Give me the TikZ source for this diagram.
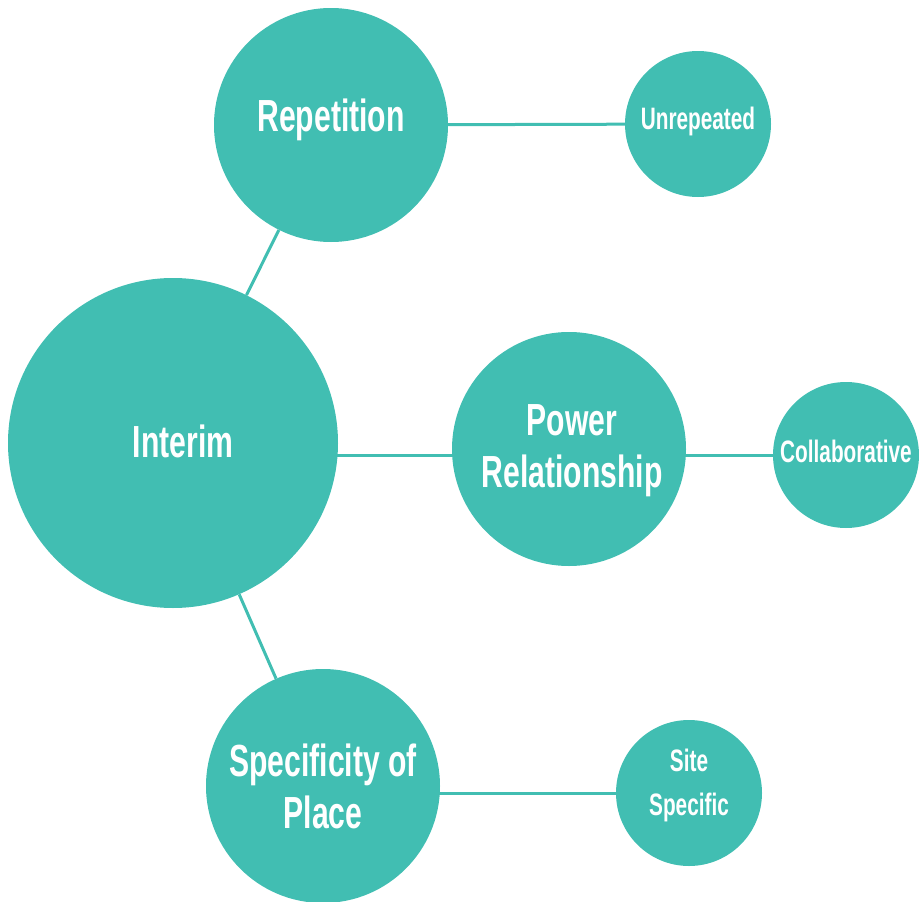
\documentclass[tikz,border=0pt]{standalone}
\usepackage{fontspec}
\setmainfont[FakeStretch=0.67]{Liberation Sans}
\usetikzlibrary{backgrounds}
\definecolor{teal}{HTML}{41BEB2}
\begin{document}
\begin{tikzpicture}[x=1pt,y=-1pt,
  bigc/.style={circle,fill=teal,inner sep=0pt,minimum size=330pt},
  midc/.style={circle,fill=teal,inner sep=0pt,minimum size=234pt},
  smallc/.style={circle,fill=teal,inner sep=0pt,minimum size=146pt},
  bigt/.style={text=white,align=center,font=\fontsize{45}{52}\selectfont\bfseries},
  smallt/.style={text=white,align=center,font=\fontsize{31}{44}\selectfont\bfseries},
  link/.style={teal,line width=3pt}]
  \useasboundingbox (0,0) rectangle (919,902);
  % main circle
  \node[bigc,label={[bigt,xshift=10pt,yshift=2pt]center:Interim}] (interim) at (173,443) {};
  % second level
  \node[midc,label={[bigt,yshift=5pt]center:Repetition}] (rep) at (331,125) {};
  \node[midc,label={[bigt,xshift=3pt,yshift=-2pt]center:Power\\Relationship}] (power) at (569,449) {};
  \node[midc,label={[bigt]center:Specificity of\\Place}] (place) at (323,786) {};
  % third level
  \node[smallc,label={[smallt,yshift=3pt]center:Unrepeated}] (unrep) at (698,124) {};
  \node[smallc,label={[smallt,yshift=4pt]center:Collaborative}] (collab) at (846,455) {};
  \node[smallc,label={[smallt,yshift=8pt]center:Site\\Specific}] (site) at (689,793) {};
  % links behind the circles
  \begin{scope}[on background layer]
    \draw[link] (interim) -- (rep);
    \draw[link] (interim) -- (place);
    \draw[link] ([yshift=-12pt]interim.center) -- (power.center |- collab);
    \draw[link] (rep) -- (unrep);
    \draw[link] (power.center |- collab) -- (collab);
    \draw[link] (place.center |- site) -- (site);
  \end{scope}
\end{tikzpicture}
\end{document}
